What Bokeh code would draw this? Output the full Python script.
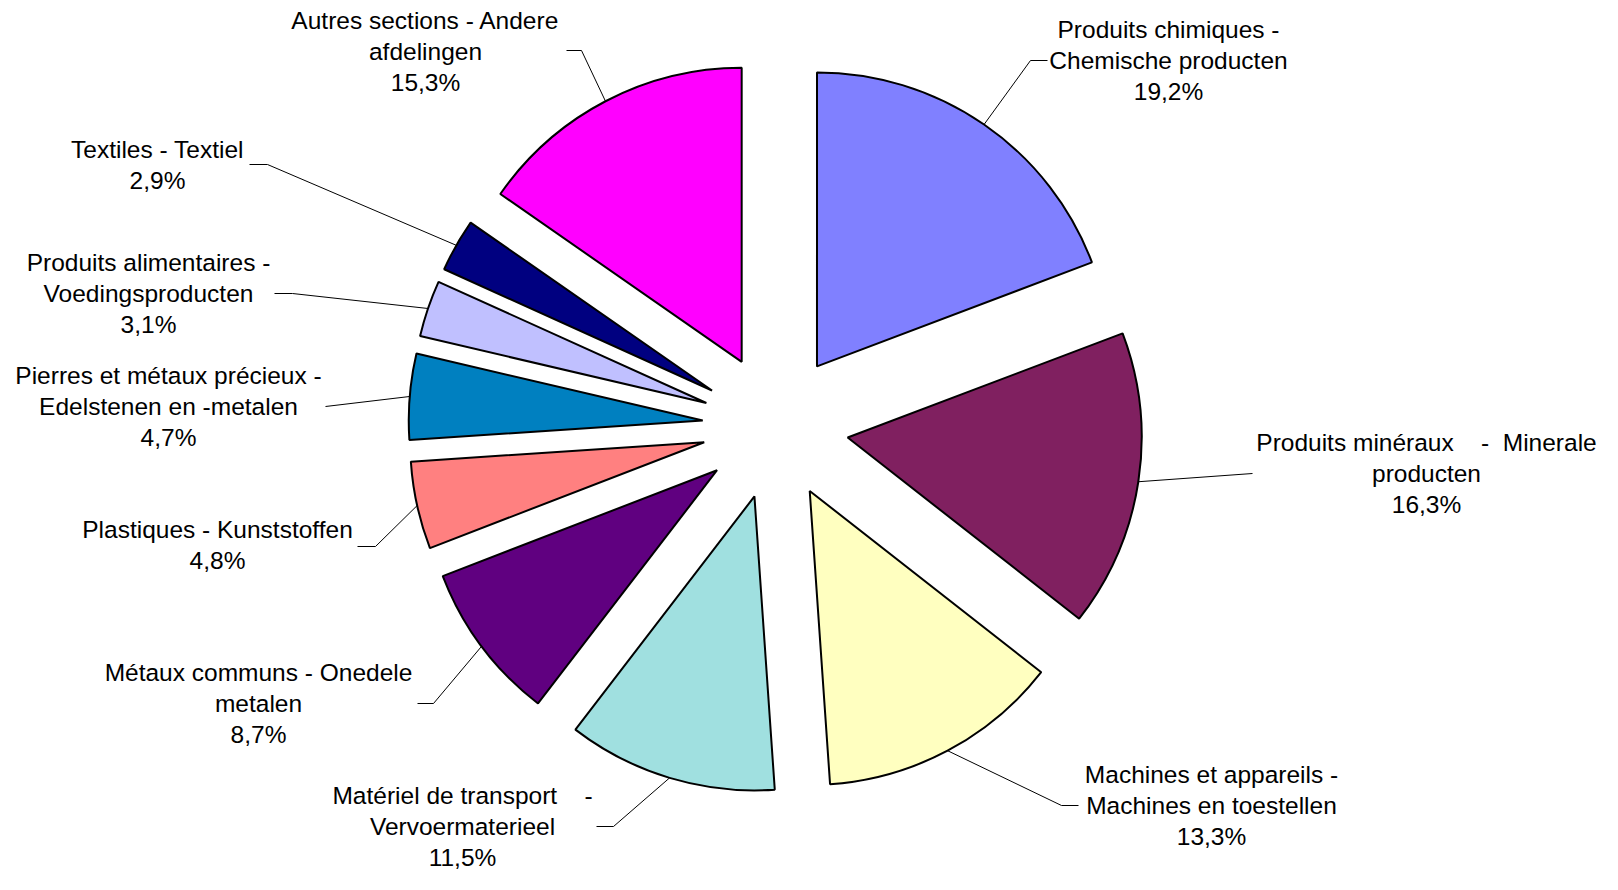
import math
from bokeh.plotting import figure
from bokeh.models import Range1d, ColumnDataSource
from bokeh.embed import file_html
from bokeh.resources import INLINE
from bokeh.core.properties import value

# ---------------- data ----------------
categories = [
    "Produits chimiques -\nChemische producten",
    "Produits minéraux\u00a0\u00a0\u00a0\u00a0-\u00a0\u00a0Minerale\nproducten",
    "Machines et appareils -\nMachines en toestellen",
    "Matériel de transport\u00a0\u00a0\u00a0\u00a0-\nVervoermaterieel",
    "Métaux communs - Onedele\nmetalen",
    "Plastiques - Kunststoffen",
    "Pierres et métaux précieux -\nEdelstenen en -metalen",
    "Produits alimentaires -\nVoedingsproducten",
    "Textiles - Textiel",
    "Autres sections - Andere\nafdelingen",
]
shares = [19.2, 16.3, 13.3, 11.5, 8.7, 4.8, 4.7, 3.1, 2.9, 15.3]
colors = ["#8080FF", "#802060", "#FFFFC0", "#A0E0E0", "#600080",
          "#FF8080", "#0080C0", "#C0C0FF", "#000080", "#FF00FF"]

# ---------------- layout (pixels from the top-left of the plot) ----------------
W, H = 1600, 874
TOP = 890                  # data y at the top edge; data y = TOP - pixel row
CX, CY = 775, 426          # pie centre
R = 294                    # radius
EXPLODE = 73               # explosion distance
FONT = "Liberation Sans"
FSIZE = "24.5px"
LINE_H = 31

label_pos = [(1168, 29), (1426, 442), (1211, 774), (462, 795), (258, 672),
             (217, 529), (168, 375), (148, 262), (157, 149), (425, 20)]
leader_elbow = [(1030, 60), (1252, 473), (1061, 805), (613, 826), (433, 703),
                (375, 546), (325, 406), (292, 293), (267, 164), (581, 50)]
leader_end_x = [1047, 1252, 1078, 596, 417, 357, 325, 274, 249, 566]


def yd(Y):
    return TOP - Y


p = figure(width=W, height=H, x_range=Range1d(0, W), y_range=Range1d(TOP - H, TOP),
           output_backend="svg", toolbar_location=None, min_border=0,
           x_axis_location=None, y_axis_location=None)
p.grid.grid_line_color = None
p.outline_line_color = None
p.background_fill_color = "white"
p.border_fill_color = "white"

total = sum(shares)
xs, ys, sa, ea, arc_pts = [], [], [], [], []
cum = 0.0
for s in shares:
    t0 = cum / total * 2 * math.pi
    t1 = (cum + s) / total * 2 * math.pi
    tm = (t0 + t1) / 2
    cum += s
    ax = CX + EXPLODE * math.sin(tm)
    ay = CY - EXPLODE * math.cos(tm)
    xs.append(ax)
    ys.append(yd(ay))
    sa.append(math.pi / 2 - t0)
    ea.append(math.pi / 2 - t1)
    arc_pts.append((ax + R * math.sin(tm), ay - R * math.cos(tm)))

# leader lines
lx, ly = [], []
for (px, py), (ex, ey), hx in zip(arc_pts, leader_elbow, leader_end_x):
    lx.append([px, ex, hx])
    ly.append([yd(py), yd(ey), yd(ey)])
p.multi_line(xs=lx, ys=ly, line_color="black", line_width=1)

src = ColumnDataSource(dict(x=xs, y=ys, sa=sa, ea=ea, color=colors))
p.wedge(x="x", y="y", radius=R, start_angle="sa", end_angle="ea", direction="clock",
        fill_color="color", line_color="black", line_width=2, source=src)

# labels
tx, ty, tt = [], [], []
for name, s, (lxp, lyp) in zip(categories, shares, label_pos):
    lines = name.split("\n") + [f"{s:.1f}".replace(".", ",") + "%"]
    for i, ln in enumerate(lines):
        tx.append(lxp)
        ty.append(yd(lyp + i * LINE_H))
        tt.append(ln)
p.text(x=tx, y=ty, text=tt, text_font=value(FONT), text_font_size=FSIZE,
       text_align="center", text_baseline="middle", text_color="black")

open("out.html", "w").write(file_html(p, INLINE))
